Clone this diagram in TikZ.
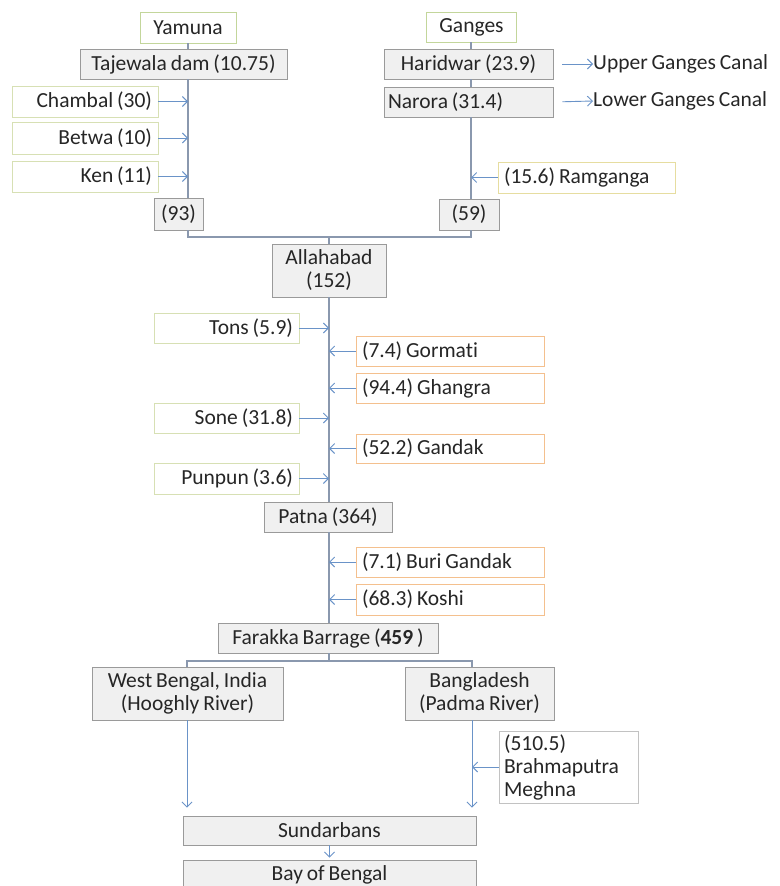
\documentclass[tikz,border=0pt]{standalone}
\usepackage{fontspec}
\setmainfont{Carlito}[Ligatures=NoCommon, WordSpace=0.8]
\usetikzlibrary{arrows,arrows.meta}
\usepackage{xcolor}
\definecolor{srcgreen}{HTML}{C3D69B}
\definecolor{ltrib}{HTML}{D7E0B4}
\definecolor{rtrib}{HTML}{F4C08E}
\definecolor{ramtrib}{HTML}{E6DDA0}
\definecolor{boxgray}{HTML}{F0F0F0}
\definecolor{boxline}{HTML}{9A9A9A}
\definecolor{riverline}{HTML}{8A98AE}
\definecolor{arrowblue}{HTML}{6A93C8}

\begin{document}
\begin{tikzpicture}[x=1pt,y=-1pt]
      \tikzstyle{every node}=[font=\fontsize{21.5}{23}\selectfont, inner xsep=6pt, inner ysep=0pt, text=black!85]
      \tikzstyle{station}=[draw=boxline, fill=boxgray, align=center, line width=0.8pt]
      \tikzstyle{source}=[draw=srcgreen, fill=white, align=center, line width=0.8pt]
      \tikzstyle{lefttrib}=[draw=ltrib, fill=white, align=flush right, line width=0.8pt]
      \tikzstyle{righttrib}=[draw=rtrib, fill=white, align=flush left, line width=0.8pt]
      \tikzstyle{river}=[draw=riverline, line width=1.1pt]
      \tikzstyle{inflow}=[-{Straight Barb[length=5pt,width=10pt]}, draw=arrowblue, line width=0.9pt]
      \useasboundingbox (0,0) rectangle (779,886);

      % axes of the rivers
      \coordinate (yx) at (188,0);
      \coordinate (gx) at (471,0);
      \coordinate (mx) at (329,0);
      \coordinate (wbx) at (187,0);
      \coordinate (bdx) at (472,0);
      \coordinate (join) at (329,237);
      \coordinate (split) at (329,661);

      % Yamuna
      \node[source, minimum width=96pt, minimum height=31pt] (yamuna) at (188,27.5) {Yamuna};
      \node[station, minimum width=207pt, minimum height=30pt] (taje) at (183.5,64) {Tajewala dam (10.75)};
      \node[lefttrib, text width=134pt, minimum height=31pt] (chambal) at (85,101.5) {Chambal (30)};
      \node[lefttrib, text width=134pt, minimum height=32pt] (betwa) at (85,138) {Betwa (10)};
      \node[lefttrib, text width=134pt, minimum height=31pt] (ken) at (85,176.5) {Ken (11)};
      \node[station, minimum width=49pt, minimum height=32pt] (n93) at (178.5,214) {(93)};

      % Ganges
      \node[source, minimum width=90pt, minimum height=30pt] (ganges) at (471.5,27) {Ganges};
      \node[station, minimum width=169pt, minimum height=30pt] (hari) at (468.5,64) {Haridwar (23.9)};
      \node[station, align=flush left, text width=161pt, minimum height=30pt, inner xsep=4pt] (narora) at (468.5,102) {Narora (31.4)};
      \node[anchor=west, inner xsep=0pt] (upper) at (593,64) {Upper Ganges Canal};
      \node[anchor=west, inner xsep=0pt] (lower) at (593,101) {Lower Ganges Canal};
      \node[righttrib, draw=ramtrib, text width=165pt, minimum height=31pt] (ramganga) at (586.5,177.5) {(15.6) Ramganga};
      \node[station, minimum width=60pt, minimum height=31pt] (n59) at (469,214.5) {(59)};

      % Allahabad to Farakka
      \node[station, minimum width=114pt, minimum height=53pt] (allahabad) at (329,270.5) {Allahabad\\(152)};
      \node[lefttrib, text width=133pt, minimum height=30pt] (tons) at (226.5,328) {Tons (5.9)};
      \node[righttrib, text width=176pt, minimum height=30pt] (gormati) at (450,351) {(7.4) Gormati};
      \node[righttrib, text width=176pt, minimum height=30pt] (ghangra) at (450,388) {(94.4) Ghangra};
      \node[lefttrib, text width=133pt, minimum height=30pt] (sone) at (226.5,418) {Sone (31.8)};
      \node[righttrib, text width=176pt, minimum height=29pt] (gandak) at (450,448.5) {(52.2) Gandak};
      \node[lefttrib, text width=133pt, minimum height=31pt] (punpun) at (226.5,478.5) {Punpun (3.6)};
      \node[station, minimum width=128pt, minimum height=30pt] (patna) at (328,517) {Patna (364)};
      \node[righttrib, text width=176pt, minimum height=30pt] (buri) at (450,562) {(7.1) Buri Gandak};
      \node[righttrib, text width=176pt, minimum height=31pt] (koshi) at (450,599.5) {(68.3) Koshi};
      \node[station, minimum width=220pt, minimum height=30pt] (farakka) at (328,638) {Farakka Barrage (\textbf{459} )};

      % delta
      \node[station, minimum width=191pt, minimum height=53pt] (wb) at (187.5,693.5) {West Bengal, India\\(Hooghly River)};
      \node[station, minimum width=149pt, minimum height=53pt] (bd) at (479.5,693.5) {Bangladesh\\(Padma River)};
      \node[station, draw=boxline!60, fill=white, align=flush left, text width=129pt, inner xsep=5pt, minimum height=72pt] (brahma) at (568.5,767) {(510.5)\\Brahmaputra\\Meghna};
      \node[station, minimum width=293pt, minimum height=29pt] (sundarbans) at (329.5,830.5) {Sundarbans};
      \node[station, minimum width=293pt, minimum height=30pt] (bay) at (329.5,875) {Bay of Bengal};

      % river lines
      \draw[river] (yamuna.south) -- (yamuna.south |- taje.north);
      \draw[river] (taje.south -| yx) -- (n93.north -| yx);
      \draw[river] (n93.south -| yx) -- (yx |- join) -- (gx |- join) -- (n59.south -| gx);
      \draw[river] (join) -- (allahabad.north -| join);
      \draw[river] (ganges.south -| gx) -- (hari.north -| gx);
      \draw[river] (hari.south -| gx) -- (narora.north -| gx);
      \draw[river] (narora.south -| gx) -- (n59.north -| gx);
      \draw[river] (allahabad.south -| mx) -- (patna.north -| mx);
      \draw[river] (patna.south -| mx) -- (farakka.north -| mx);
      \draw[river] (farakka.south -| mx) -- (split);
      \draw[river] (wbx |- wb.north) -- (wbx |- split) -- (bdx |- split) -- (bdx |- bd.north);

      % inflows and outflows
      \draw[inflow] (chambal.east) -- (chambal.east -| yx);
      \draw[inflow] (betwa.east) -- (betwa.east -| yx);
      \draw[inflow] (ken.east) -- (ken.east -| yx);
      \draw[inflow, shorten <=9pt] (hari.east) -- (upper.west);
      \draw[inflow, shorten <=9pt] (narora.east) -- (lower.west);
      \draw[inflow] (ramganga.west) -- (ramganga.west -| gx);
      \draw[inflow] (tons.east) -- (tons.east -| mx);
      \draw[inflow] (gormati.west) -- (gormati.west -| mx);
      \draw[inflow] (ghangra.west) -- (ghangra.west -| mx);
      \draw[inflow] (sone.east) -- (sone.east -| mx);
      \draw[inflow] (gandak.west) -- (gandak.west -| mx);
      \draw[inflow] (punpun.east) -- (punpun.east -| mx);
      \draw[inflow] (buri.west) -- (buri.west -| mx);
      \draw[inflow] (koshi.west) -- (koshi.west -| mx);
      \draw[inflow] (brahma.west) -- (brahma.west -| bdx);
      \draw[inflow, shorten >=8pt] (wbx |- wb.south) -- (wbx |- sundarbans.north);
      \draw[inflow, shorten >=8pt] (bdx |- bd.south) -- (bdx |- sundarbans.north);
      \draw[inflow, shorten >=2pt] (sundarbans.south) -- (bay.north);
\end{tikzpicture}
\end{document}
